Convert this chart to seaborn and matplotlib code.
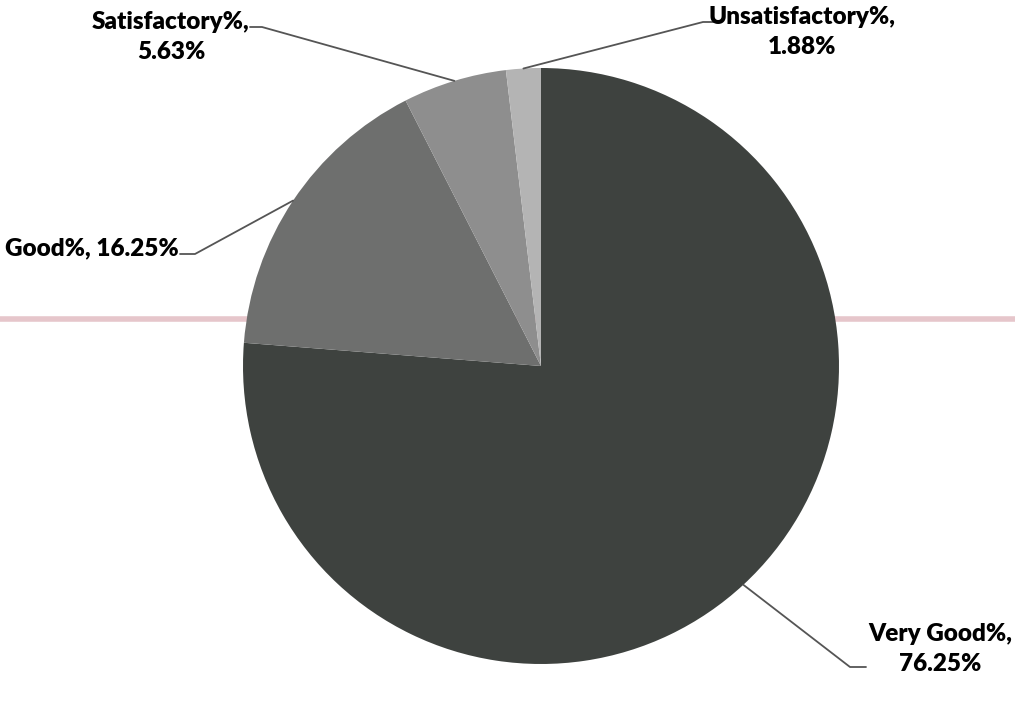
import numpy as np
import matplotlib
matplotlib.use("Agg")
import matplotlib.pyplot as plt
import seaborn as sns

categories = ["Very Good%", "Good%", "Satisfactory%", "Unsatisfactory%"]
values = [76.25, 16.25, 5.63, 1.88]
label_texts = ["Very Good%,\n76.25%", "Good%, 16.25%", "Satisfactory%,\n5.63%", "Unsatisfactory%,\n1.88%"]
colors = ["#3e423f", "#6e6f6e", "#8e8e8e", "#b4b4b4"]

sns.set_theme(style="white")
plt.rcParams['font.family'] = ['Lato', 'DejaVu Sans']

W, H = 1015, 705
fig = plt.figure(figsize=(W / 100, H / 100), dpi=100)
ax = fig.add_axes([0, 0, 1, 1])

cx, cy, r = 541, H - 366, 298

# scan artifact line
ax.axhline(H - 319, color="#e6c6cb", lw=4, zorder=0)

wedges, _ = ax.pie(values, colors=colors, startangle=90, counterclock=False,
                   center=(cx, cy), radius=r, frame=True,
                   wedgeprops=dict(linewidth=0))
ax.set_xlim(0, W)
ax.set_ylim(0, H)
ax.set_aspect('equal')
ax.axis('off')

# label layout: (text x, text y, elbow x, elbow y, end-of-text x)
layout = {
    "Very Good%": (940, 649, 850, 667, 866),
    "Good%": (92, 248, 195, 254, 180),
    "Satisfactory%": (171, 37, 262, 27, 250),
    "Unsatisfactory%": (802, 32, 703, 22, 716),
}

for w, cat, txt in zip(wedges, categories, label_texts):
    ang = np.deg2rad((w.theta1 + w.theta2) / 2)
    ex, ey = cx + r * np.cos(ang), cy + r * np.sin(ang)
    tx, ty, bx, by, sx = layout[cat]
    ax.plot([ex, bx, sx], [ey, H - by, H - by], color="#555555", lw=1.3, zorder=3)
    ax.text(tx, H - ty, txt, ha='center', va='center', fontsize=17.5,
            fontweight='heavy', color='black', linespacing=1.4)

fig.savefig("out.png", dpi=100, facecolor='white')
